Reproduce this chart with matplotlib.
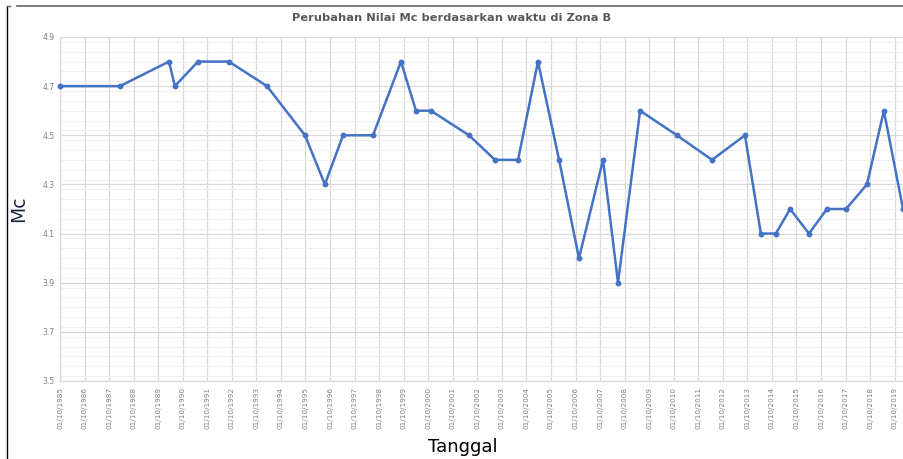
import matplotlib
matplotlib.use("Agg")
import matplotlib.pyplot as plt
from matplotlib.lines import Line2D
from matplotlib.ticker import MultipleLocator
import numpy as np

matplotlib.rcParams.update({"font.family": "DejaVu Sans"})

# time as decimal year, Mc values
years = [1985.00, 1987.44, 1989.44, 1989.68, 1990.62, 1991.88, 1993.43, 1994.98,
         1995.79, 1996.53, 1997.75, 1998.89, 1999.50, 2000.11, 2001.66, 2002.72,
         2003.66, 2004.47, 2005.33, 2006.14, 2007.12, 2007.73, 2008.63, 2010.13,
         2011.56, 2012.90, 2013.55, 2014.16, 2014.74, 2015.51, 2016.24, 2017.02,
         2017.87, 2018.56, 2019.34]
mc = [4.7, 4.7, 4.8, 4.7, 4.8, 4.8, 4.7, 4.5,
      4.3, 4.5, 4.5, 4.8, 4.6, 4.6, 4.5, 4.4,
      4.4, 4.8, 4.4, 4.0, 4.4, 3.9, 4.6, 4.5,
      4.4, 4.5, 4.1, 4.1, 4.2, 4.1, 4.2, 4.2,
      4.3, 4.6, 4.2]
tick_years = list(range(1985, 2020))
tick_labels = [f"01/10/{y}" for y in tick_years]

fig = plt.figure(figsize=(9.04, 4.59), dpi=100)
ax = fig.add_axes([60/904, 1 - 381/459, 1 - 60/904, (381 - 37)/459])

ax.plot(years, mc, color="#4472C4", lw=1.8, marker="o", ms=3.2, clip_on=False, zorder=3)

ax.set_xlim(1985, 2019.38)
ax.set_ylim(3.5, 4.9)
ax.set_xticks(tick_years)
ax.set_xticklabels(tick_labels, rotation=90, fontsize=5.2, color="#7f7f7f")
ax.yaxis.set_major_locator(MultipleLocator(0.2))
ax.yaxis.set_minor_locator(MultipleLocator(0.04))
ax.set_yticks(np.round(np.arange(3.5, 4.91, 0.2), 1))
ax.set_yticklabels([f"{v:.1f}" for v in np.arange(3.5, 4.91, 0.2)], fontsize=5.5, color="#7f7f7f")
ax.tick_params(axis="both", length=0, pad=4)
ax.tick_params(axis="y", which="minor", length=0)

ax.grid(which="major", color="#d9d9d9", lw=0.9)
ax.grid(which="minor", axis="y", color="#efefef", lw=0.7)
ax.set_axisbelow(True)
for s in ["top", "right"]:
    ax.spines[s].set_visible(False)
for s in ["left", "bottom"]:
    ax.spines[s].set_color("#d9d9d9")
    ax.spines[s].set_linewidth(0.9)

ax.set_xlabel("Tanggal", fontsize=13, color="#000000")
ax.set_ylabel("Mc", fontsize=13.5, color="#1f2a44")
ax.xaxis.set_label_coords((463 - 60) / 844, -(438 - 381) / 344)
ax.yaxis.set_label_coords(-(60 - 28) / 844, 0.5)

fig.text(452/904, 1 - 18/459, "Perubahan Nilai Mc berdasarkan waktu di Zona B",
         ha="center", va="center", fontsize=8.2, fontweight="bold", color="#595959")

# chart frame fragments
fig.add_artist(Line2D([7/904, 7/904], [0, 1 - 6/459], color="#000000", lw=1.0))
fig.add_artist(Line2D([17/904, 1], [1 - 6/459, 1 - 6/459], color="#666666", lw=1.2))
fig.add_artist(Line2D([7/904, 10/904], [1 - 6/459, 1 - 6/459], color="#666666", lw=1.0))

fig.savefig("out.png", dpi=100)
